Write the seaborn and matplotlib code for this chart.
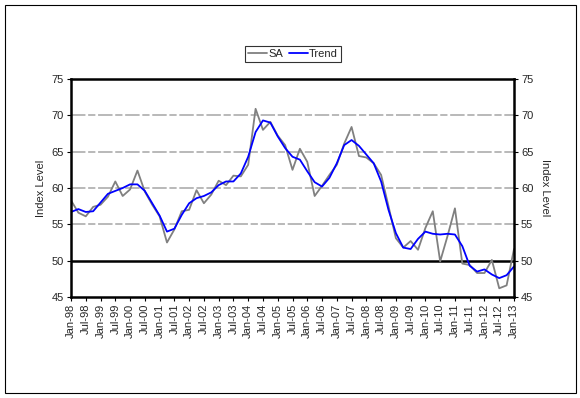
import numpy as np
import pandas as pd
import matplotlib
matplotlib.use("Agg")
import matplotlib.pyplot as plt
import seaborn as sns
from matplotlib.patches import Rectangle

# quarterly series, Jan-98 .. Jan-13
quarters = pd.period_range("1998Q1", "2013Q1", freq="Q")
sa = [58.3, 56.6, 56.1, 57.4, 57.7, 58.8, 60.9, 58.9, 59.8, 62.4,
      59.5, 57.7, 56.1, 52.5, 54.3, 56.8, 57.0, 59.7, 57.9, 59.1,
      61.0, 60.4, 61.7, 61.6, 63.2, 70.9, 68.0, 69.1, 67.2, 65.9,
      62.5, 65.4, 63.6, 58.9, 60.3, 61.8, 63.2, 66.1, 68.4, 64.4,
      64.2, 63.4, 61.8, 57.5, 53.1, 51.8, 52.7, 51.5, 54.5, 56.8,
      49.9, 53.4, 57.2, 49.6, 49.4, 48.3, 48.3, 50.1, 46.2, 46.6,
      51.6]
trend = [56.7, 57.1, 56.7, 56.8, 58.0, 59.2, 59.6, 60.0, 60.5, 60.5,
         59.6, 57.9, 56.2, 54.0, 54.4, 56.3, 57.9, 58.6, 58.9, 59.4,
         60.4, 60.9, 60.9, 62.0, 64.3, 67.7, 69.3, 69.0, 67.1, 65.5,
         64.3, 63.9, 62.3, 60.8, 60.2, 61.4, 63.4, 65.9, 66.6, 65.8,
         64.6, 63.4, 60.9, 57.0, 53.8, 51.8, 51.6, 53.0, 54.0, 53.7,
         53.6, 53.7, 53.6, 52.0, 49.3, 48.5, 48.8, 48.1, 47.6, 48.0,
         49.2]
tick_labels = [q.start_time.strftime("%b-%y") for q in quarters[::2]]

df = pd.DataFrame({"idx": np.arange(len(quarters)), "SA": sa, "Trend": trend})
long = df.melt(id_vars="idx", var_name="series", value_name="value")

sns.set_style("white")
plt.rcParams["font.family"] = ["Liberation Sans", "DejaVu Sans"]
plt.rcParams["font.size"] = 8

fig = plt.figure(figsize=(5.8, 3.98), dpi=100)
ax = fig.add_axes([71 / 580, 1 - 297 / 398, 443 / 580, 218 / 398])

sns.lineplot(data=long, x="idx", y="value", hue="series",
             palette={"SA": "#808080", "Trend": "#0000ff"},
             linewidth=1.3, ax=ax, legend=False)

ax.set_xlim(0, len(quarters) - 1)
ax.set_ylim(45, 75)
ax.set_yticks(range(45, 80, 5))
ax.set_xticks(df["idx"][::2])
ax.set_xticklabels(tick_labels, rotation=90, fontsize=8)

for v in [55, 60, 65, 70]:
    ax.axhline(v, color="#b3b3b3", lw=1.3, dashes=(8, 1.5, 4, 1.5), zorder=0)
ax.axhline(50, color="black", lw=1.8, zorder=1)

for s in ax.spines.values():
    s.set_visible(True)
    s.set_color("black")
    s.set_linewidth(1.8)

ax.tick_params(axis="both", direction="out", length=3, width=0.8,
               color="black", labelsize=8, pad=2, bottom=True, left=True)
ax.set_xlabel("")
ax.set_ylabel("Index Level", fontsize=8, labelpad=4)

ax2 = ax.twinx()
ax2.set_ylim(45, 75)
ax2.set_yticks(range(45, 80, 5))
ax2.tick_params(axis="y", direction="out", length=3, width=0.8,
                color="black", labelsize=8, pad=2, right=True)
ax2.set_ylabel("Index Level", fontsize=8, rotation=-90, labelpad=12)
for s in ax2.spines.values():
    s.set_visible(False)

handles = [plt.Line2D([], [], color="#808080", lw=1.3),
           plt.Line2D([], [], color="#0000ff", lw=1.3)]
leg = fig.legend(handles, ["SA", "Trend"], loc="center",
                 bbox_to_anchor=(293 / 580, 1 - 54 / 398), ncol=2,
                 frameon=True, fancybox=False, fontsize=8,
                 handlelength=1.7, handletextpad=0.1, columnspacing=0.5,
                 borderpad=0.3)
leg.get_frame().set_edgecolor("black")
leg.get_frame().set_linewidth(0.8)

fig.patches.append(Rectangle((5 / 580, 5 / 398), 571 / 580, 388 / 398,
                             transform=fig.transFigure, fill=False,
                             edgecolor="black", lw=0.8))

fig.savefig("out.png", dpi=100)
